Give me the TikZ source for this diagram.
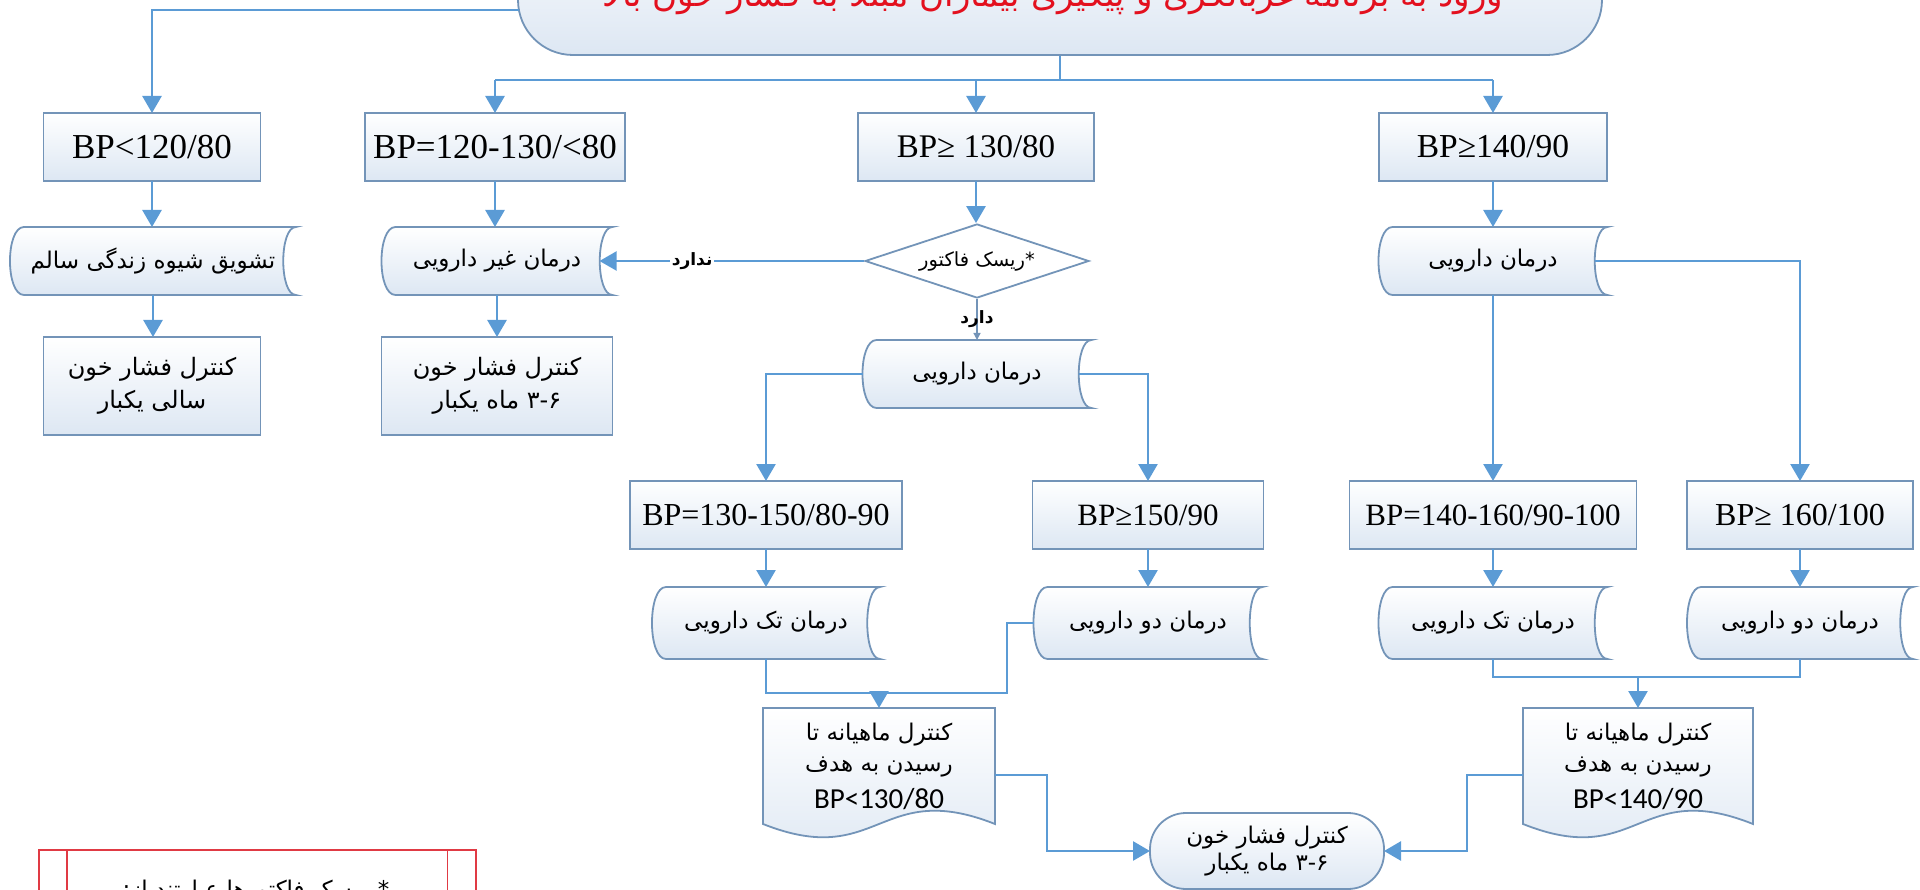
\documentclass[tikz,border=0pt]{standalone}
\usepackage{fontspec}
\setmainfont{Liberation Serif}
\newfontfamily\fa[Script=Arabic]{DejaVu Sans}
\newfontfamily\cb{Carlito}
\TeXXeTstate=1
\usetikzlibrary{shapes.geometric,arrows.meta,calc}
\pgfdeclarelayer{back}
\pgfsetlayers{back,main}
\definecolor{edgec}{HTML}{7394B8}
\definecolor{linec}{HTML}{5B9BD5}
\definecolor{fillc}{HTML}{DDE7F3}
\definecolor{titlered}{HTML}{E3101E}
\definecolor{legred}{HTML}{E03A44}
\newcommand\rl[1]{\beginR #1\endR}
\newcommand\stbg[1]{%
 \begin{pgfonlayer}{back}
 \path[shp]
   ($(#1.north west)+(14,0)$) -- (#1.north east)
   .. controls ($(#1.north east)+(-17,0)$) and ($(#1.south east)+(-17,0)$) .. (#1.south east)
   -- ($(#1.south west)+(14,0)$)
   .. controls ($(#1.south west)+(-4.7,0)$) and ($(#1.north west)+(-4.7,0)$) .. cycle;
 \end{pgfonlayer}}
\newcommand\docbg[1]{%
 \begin{pgfonlayer}{back}
 \path[shp] let \p1=(#1.north west), \p2=(#1.south east), \n1={\x2-\x1} in
   (\p1) -- (\x2,\y1) -- (\p2)
   .. controls (\x2-0.5*\n1,\y2+46pt) and (\x1+0.5*\n1,\y2-46pt) .. (\x1,\y2) -- cycle;
 \end{pgfonlayer}}
\begin{document}
\begin{tikzpicture}[x=1pt,y=-1pt,
  shp/.style={draw=edgec,line width=1.8pt,top color=white,bottom color=fillc},
  box/.style={shp,inner sep=0pt,outer sep=0pt,minimum height=68,align=center,
     font=\fontsize{32}{36}\selectfont},
  fbox/.style={box,font=\fa\fontsize{24}{33}\selectfont},
  stnode/.style={inner sep=0pt,outer sep=0pt,minimum height=68,align=center,
     font=\fa\fontsize{23}{26}\selectfont},
  dia/.style={diamond,aspect=3,draw=edgec,line width=1.8pt,fill=white,inner sep=0pt,
     minimum width=224,minimum height=74,font=\fa\fontsize{19.5}{22}\selectfont},
  docnode/.style={inner sep=0pt,outer sep=0pt,minimum width=232,minimum height=116,
     align=center,font=\fa\fontsize{23}{31}\selectfont},
  term/.style={shp,rounded corners=36pt,inner sep=0pt,outer sep=0pt,
     minimum width=234,minimum height=76,align=center,font=\fa\fontsize{23}{27}\selectfont},
  plain/.style={draw=linec,line width=2.6pt},
  conn/.style={plain,-{Triangle[length=17pt,width=19pt]}},
  thin/.style={draw=edgec,line width=1.3pt,-{Triangle[length=7pt,width=7pt]}},
  lab/.style={fill=white,inner sep=2pt,font=\fa\bfseries\fontsize{17}{20}\selectfont}
]
\useasboundingbox (0,0) rectangle (1920,890);
% title
\node[shp,rounded corners=55pt,minimum width=1084,minimum height=150,inner sep=0pt] (T) at (1060,-20) {};
\node[anchor=base,text=titlered,font=\fa\fontsize{34}{38}\selectfont,inner sep=0pt] (TT) at (1053,7)
  {\rl{ورود به برنامه غربالگری و پیگیری بیماران مبتلا به فشار خون بالا}};
% row A
\node[box,minimum width=217,font=\fontsize{35}{38}\selectfont] (A1) at (152,147) {BP<120/80};
\node[box,minimum width=260,font=\fontsize{35}{38}\selectfont] (A2) at (495,147) {BP=120-130/<80};
\node[box,minimum width=236,font=\fontsize{33}{38}\selectfont] (A3) at (976,147) {BP≥ 130/80};
\node[box,minimum width=228,font=\fontsize{33.5}{38}\selectfont] (A4) at (1493,147) {BP≥140/90};
% row B
\node[stnode,minimum width=286] (B1) at (153,261) {\rl{تشویق شیوه زندگی سالم}};
\node[stnode,minimum width=231] (B2) at (497,261) {\rl{درمان غیر دارویی}};
\node[dia] (R) at (977,261) {\rl{*ریسک فاکتور}};
\node[stnode,minimum width=229] (B4) at (1493,261) {\rl{درمان دارویی}};
\stbg{B1}\stbg{B2}\stbg{B4}
% row C
\node[fbox,minimum width=217,minimum height=98] (C1) at (152,386) {\rl{کنترل فشار خون}\\\rl{سالی یکبار}};
\node[fbox,minimum width=231,minimum height=98] (C2) at (497,386) {\rl{کنترل فشار خون}\\\rl{\beginL ۳-۶\endL{} ماه یکبار}};
\node[stnode,minimum width=229] (M) at (977,374) {\rl{درمان دارویی}};
\stbg{M}
% row D
\node[box,minimum width=272] (D1) at (766,515) {BP=130-150/80-90};
\node[box,minimum width=231,font=\fontsize{31}{36}\selectfont] (D2) at (1148,515) {BP≥150/90};
\node[box,minimum width=287,font=\fontsize{31}{36}\selectfont] (D3) at (1493,515) {BP=140-160/90-100};
\node[box,minimum width=226] (D4) at (1800,515) {BP≥ 160/100};
% row E
\node[stnode,minimum width=228,minimum height=72] (E1) at (766,623) {\rl{درمان تک دارویی}};
\node[stnode,minimum width=229,minimum height=72] (E2) at (1148,623) {\rl{درمان دو دارویی}};
\node[stnode,minimum width=229,minimum height=72] (E3) at (1493,623) {\rl{درمان تک دارویی}};
\node[stnode,minimum width=226,minimum height=72] (E4) at (1800,623) {\rl{درمان دو دارویی}};
\stbg{E1}\stbg{E2}\stbg{E3}\stbg{E4}
% documents
\node[docnode] (F1) at (879,766) {\rl{کنترل ماهیانه تا}\\\rl{رسیدن به هدف}\\[6pt]{\cb\fontsize{29}{32}\selectfont BP<130/80}};
\node[docnode,minimum width=230] (F2) at (1638,766) {\rl{کنترل ماهیانه تا}\\\rl{رسیدن به هدف}\\[6pt]{\cb\fontsize{29}{32}\selectfont BP<140/90}};
\docbg{F1}\docbg{F2}
% terminator
\node[term] (G) at (1267,851) {\rl{کنترل فشار خون}\\\rl{\beginL ۳-۶\endL{} ماه یکبار}};
% legend
\node[draw=legred,line width=1.6pt,fill=white,minimum width=437,minimum height=120,inner sep=0pt,anchor=north west] (L) at (38,849) {};
\draw[draw=legred,line width=1.4pt] ($(L.north west)+(29,0)$) -- ($(L.south west)+(29,0)$)
  ($(L.north east)+(-29,0)$) -- ($(L.south east)+(-29,0)$);
\node[anchor=base,font=\fa\fontsize{23}{26}\selectfont,inner sep=0pt] (LT) at (256,897) {\rl{* ریسک فاکتورها عبارتند از:}};
% connectors
\coordinate (tl) at (519,10);
\coordinate (split) at (1060,80);
\draw[conn] (tl) -| (A1.north);
\draw[plain] (T.south) -- (split);
\draw[plain] (A2.north |- split) -- (A4.north |- split);
\draw[conn] (A2.north |- split) -- (A2.north);
\draw[conn] (A3.north |- split) -- (A3.north);
\draw[conn] (A4.north |- split) -- (A4.north);
\draw[conn] (A1.south) -- (A1.south |- B1.north);
\draw[conn] (B1.south) -- (B1.south |- C1.north);
\draw[conn] (A2.south) -- (A2.south |- B2.north);
\draw[conn] (B2.south) -- (B2.south |- C2.north);
\draw[conn] (A3.south) -- (A3.south |- R.north);
\draw[conn] (A4.south) -- (B4.north);
\draw[conn,line width=2pt] (R.west) -- ($(B2.east)+(-13,0)$) node[lab,pos=0.65] (no) {\rl{ندارد}};
\draw[thin] (R.south) -- (M.north) node[lab,pos=0.5,fill=none] (yes) {\rl{دارد}};
\draw[conn] (M.west) -| (D1.north);
\draw[conn] ($(M.east)+(-13,0)$) -| (D2.north);
\draw[conn] (B4.south) -- (D3.north);
\draw[conn] ($(B4.east)+(-13,0)$) -| (D4.north);
\draw[conn] (D1.south) -- (E1.north);
\draw[conn] (D2.south) -- (E2.north);
\draw[conn] (D3.south) -- (E3.north);
\draw[conn] (D4.south) -- (E4.north);
\coordinate (mL) at (879,693);
\coordinate (jL) at (1007,693);
\draw[plain] (E1.south) |- (mL);
\draw[plain] (E2.west) -| (jL) -- (mL);
\draw[conn] (mL) -- (F1.north);
\coordinate (mR) at (1638,677);
\draw[plain] (E3.south) |- (E4.south |- mR) -- (E4.south);
\draw[conn] (mR) -- (F2.north);
\coordinate (jG1) at (1047,851);
\coordinate (jG2) at (1467,851);
\draw[conn] ($(F1.east)+(0,9)$) -| (jG1) -- (G.west);
\draw[conn] ($(F2.west)+(0,9)$) -| (jG2) -- (G.east);
\end{tikzpicture}
\end{document}
